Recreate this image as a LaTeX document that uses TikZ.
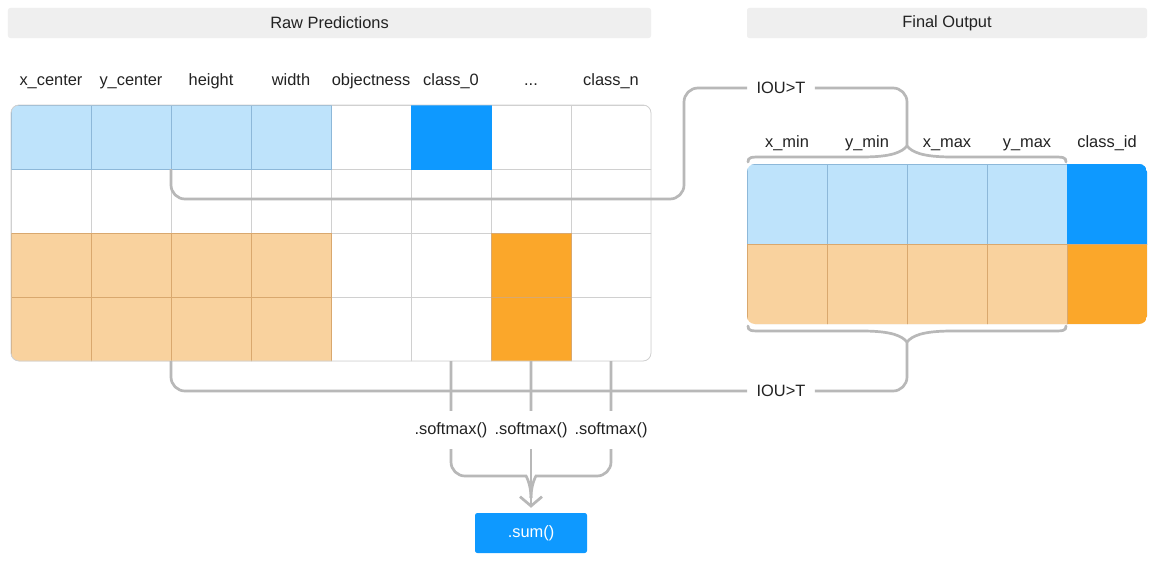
\documentclass[tikz,border=0pt]{standalone}
\usepackage{fontspec}
\setmainfont{Liberation Sans}
\usepackage{xcolor}
\usepackage{tikz}
\usetikzlibrary{arrows.meta, positioning}

\definecolor{lightblue}{HTML}{BEE3FB}
\definecolor{strongblue}{HTML}{0E99FF}
\definecolor{lightorange}{HTML}{F9D29E}
\definecolor{strongorange}{HTML}{FBA72A}
\definecolor{gridgray}{HTML}{D0D0D0}
\definecolor{bluegrid}{HTML}{8DB8D9}
\definecolor{orangegrid}{HTML}{D9A86E}
\definecolor{linkgray}{HTML}{B8B8B8}
\definecolor{headgray}{HTML}{EFEFEF}
\definecolor{textdark}{HTML}{222222}

\begin{document}
\begin{tikzpicture}[
    x=0.03cm, y=-0.03cm,
    font=\fontsize{14}{16.5}\selectfont,
    text=textdark,
    cell/.style={
        draw=gridgray,
        line width=0.7pt,
        anchor=north west,
        inner sep=0pt,
        outer sep=0pt,
        minimum width=2.4cm,
        minimum height=1.92cm
    },
    bigcell/.style={cell, minimum height=2.4cm},
    soft/.style={fill=lightblue, draw=bluegrid},
    hard/.style={fill=strongblue, draw=strongblue},
    softo/.style={fill=lightorange, draw=orangegrid},
    hardo/.style={fill=strongorange, draw=orangegrid},
    header/.style={
        fill=headgray,
        rounded corners=2pt,
        minimum height=0.9cm,
        inner sep=0pt
    },
    collabel/.style={inner sep=0pt, text height=0.37cm, text depth=0.1cm},
    iou/.style={inner xsep=0.28cm, inner ysep=0pt},
    fn/.style={inner xsep=0pt, inner ysep=0.33cm, text height=0.37cm, text depth=0.1cm},
    sumbox/.style={
        fill=strongblue,
        text=white,
        rounded corners=2pt,
        minimum width=3.36cm,
        minimum height=1.2cm
    },
    link/.style={draw=linkgray, line width=2.3pt, rounded corners=0.42cm},
    brace/.style={draw=linkgray, line width=2.3pt, line cap=round}
]

\path[use as bounding box, fill=white] (0,0) rectangle (1155,561);

% headers
\node[header, minimum width=19.29cm] (rawhead) at (329.5,23) {Raw Predictions};
\node[header, minimum width=12cm] (finalhead) at (947,23) {Final Output};

% raw predictions grid
\begin{scope}
\clip[rounded corners=0.24cm] (11,105) rectangle (651,361);
\foreach \r in {1,...,4}
    \foreach \c in {1,...,8}
        \node[cell] (p\r\c) at ({11+80*(\c-1)},{105+64*(\r-1)}) {};
\foreach \c in {1,...,4} {
    \node[cell, soft] (b1\c) at (p1\c.north west) {};
    \node[cell, softo] (o3\c) at (p3\c.north west) {};
    \node[cell, softo] (o4\c) at (p4\c.north west) {};
}
\node[cell, hard] (b16) at (p16.north west) {};
\node[cell, hardo] (o37) at (p37.north west) {};
\node[cell, hardo] (o47) at (p47.north west) {};
\end{scope}
\draw[gridgray, line width=0.7pt, rounded corners=0.24cm] (11,105) rectangle (651,361);

\node[collabel, above=0.47cm of p11] (lxc) {x\_center};
\node[collabel, above=0.47cm of p12] (lyc) {y\_center};
\node[collabel, above=0.47cm of p13] (lh) {height};
\node[collabel, above=0.47cm of p14] (lw) {width};
\node[collabel, above=0.47cm of p15] (lobj) {objectness};
\node[collabel, above=0.47cm of p16] (lc0) {class\_0};
\node[collabel, above=0.47cm of p17] (ldots) {...};
\node[collabel, above=0.47cm of p18] (lcn) {class\_n};

% final output grid
\begin{scope}
\clip[rounded corners=0.24cm] (747,164) rectangle (1147,324);
\foreach \c in {1,...,4} {
    \node[bigcell, soft] (q1\c) at ({747+80*(\c-1)},164) {};
    \node[bigcell, softo] (q2\c) at ({747+80*(\c-1)},244) {};
}
\node[bigcell, hard] (q15) at (1067,164) {};
\node[bigcell, hardo] (q25) at (1067,244) {};
\end{scope}

\node[collabel, above=0.38cm of q11] (lxmin) {x\_min};
\node[collabel, above=0.38cm of q12] (lymin) {y\_min};
\node[collabel, above=0.38cm of q13] (lxmax) {x\_max};
\node[collabel, above=0.38cm of q14] (lymax) {y\_max};
\node[collabel, above=0.38cm of q15] (lcid) {class\_id};

% braces
\coordinate (toptip) at (907,146);
\coordinate (bottip) at (907,342);
\draw[brace] (748,162) .. controls (748,157) and (751,157) .. (762,157) -- (862,157)
    .. controls (892,157) and (902,152) .. (toptip)
    .. controls (912,152) and (922,157) .. (952,157) -- (1052,157)
    .. controls (1063,157) and (1066,157) .. (1066,162);
\draw[brace] (748,326) .. controls (748,331) and (751,331) .. (762,331) -- (862,331)
    .. controls (892,331) and (902,336) .. (bottip)
    .. controls (912,336) and (922,331) .. (952,331) -- (1052,331)
    .. controls (1063,331) and (1066,331) .. (1066,326);

% IOU connectors
\node[iou] (iou1) at (781,88) {IOU>T};
\node[iou] (iou2) at (781,391) {IOU>T};
\draw[link] (p13.south west) |- (684,199) -- (684,88) -- (iou1.west);
\draw[link] (iou1.east) -| (toptip);
\draw[link] (p43.south west) |- (iou2.west);
\draw[link] (iou2.east) -| (bottip);

% softmax and sum
\node[fn] (sm1) at (451,430) {.softmax()};
\node[fn] (sm2) at (531,430) {.softmax()};
\node[fn] (sm3) at (611,430) {.softmax()};
\node[sumbox] (sum) at (531,533) {.sum()};

\draw[link] (p46.south) -- (sm1.north);
\draw[link] (p47.south) -- (sm2.north);
\draw[link] (p48.south) -- (sm3.north);
\draw[link] (sm1.south) |- (512,476) .. controls (526,476) and (531,484) .. (531,498);
\draw[link] (sm3.south) |- (550,476) .. controls (536,476) and (531,484) .. (531,498);
\draw[link, -{Straight Barb[length=0.28cm, width=0.66cm]}, shorten >=0.15cm] (sm2.south) -- (sum.north);

\end{tikzpicture}
\end{document}
